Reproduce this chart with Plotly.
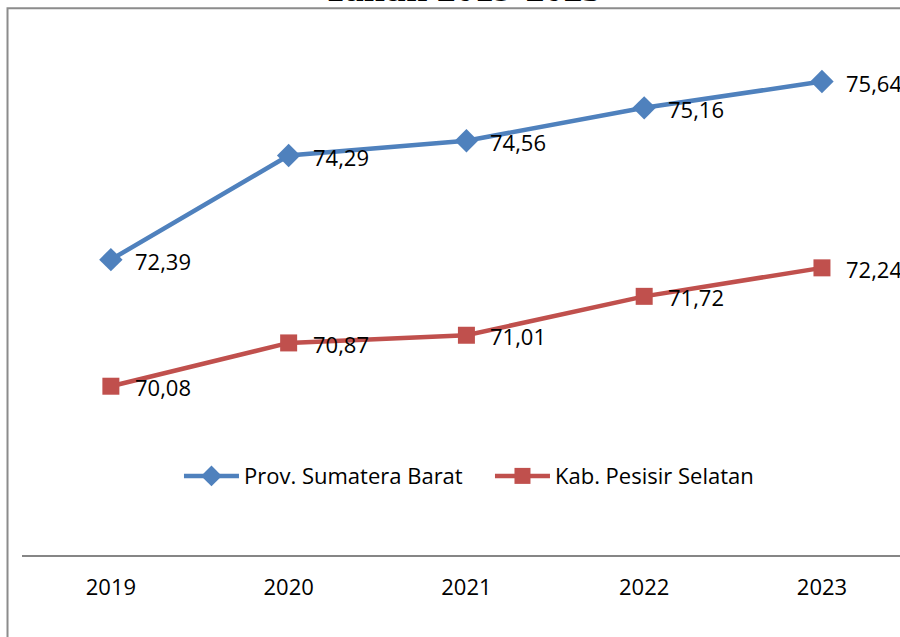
import plotly.graph_objects as go

years = ["2019", "2020", "2021", "2022", "2023"]
sumbar = [72.39, 74.29, 74.56, 75.16, 75.64]
pessel = [70.08, 70.87, 71.01, 71.72, 72.24]
name_sumbar = "Prov. Sumatera Barat"
name_pessel = "Kab. Pesisir Selatan"
title_text = "Tahun 2019-2023"

blue = "#4F81BD"
red = "#C0504D"
FONT = "Open Sans"
FS = 22

xs = list(range(len(years)))

fig = go.Figure()
fig.add_trace(go.Scatter(
    x=xs, y=sumbar, name=name_sumbar, mode="lines+markers",
    line=dict(color=blue, width=4.5),
    marker=dict(symbol="diamond", size=18, color=blue),
))
fig.add_trace(go.Scatter(
    x=xs, y=pessel, name=name_pessel, mode="lines+markers",
    line=dict(color=red, width=4.5),
    marker=dict(symbol="square", size=17, color=red),
))

annotations = []
for series in (sumbar, pessel):
    for xi, v in zip(xs, series):
        annotations.append(dict(
            x=xi, y=v, xref="x", yref="y",
            text=f"{v:.2f}".replace(".", ","),
            showarrow=False, xanchor="left", yanchor="middle",
            xshift=22, yshift=-1,
            font=dict(family=FONT, size=FS, color="#000000"),
        ))

annotations.append(dict(
    x=0.5, y=1.0, xref="paper", yref="paper",
    text="<b>" + title_text + "</b>", showarrow=False,
    xanchor="center", yanchor="bottom", yshift=-4, xshift=1,
    font=dict(family="Liberation Serif", size=38, color="#000000"),
))

fig.update_layout(
    width=900, height=637,
    margin=dict(l=22, r=0, t=7, b=82, pad=0),
    paper_bgcolor="white", plot_bgcolor="white",
    showlegend=True,
    legend=dict(
        orientation="h", x=0.533, xanchor="center", y=0.144, yanchor="middle",
        font=dict(family=FONT, size=FS, color="#000000"),
        itemwidth=55, bgcolor="rgba(0,0,0,0)",
        tracegroupgap=0, entrywidth=241, entrywidthmode="pixels",
    ),
    annotations=annotations,
    shapes=[dict(
        type="rect", xref="paper", yref="paper",
        x0=-0.0165, x1=1.02, y0=-0.2, y1=0.9976,
        line=dict(color="#8C8C8C", width=2), layer="below",
    )],
    xaxis=dict(
        range=[-0.5, 4.439], tickmode="array", tickvals=xs, ticktext=years,
        showgrid=False, zeroline=False, showline=True,
        linecolor="#868686", linewidth=2, ticks="",
        tickfont=dict(family=FONT, size=FS, color="#000000"),
        ticklabelstandoff=12,
    ),
    yaxis=dict(
        range=[67, 77], showgrid=False, zeroline=False, showline=False,
        showticklabels=False, ticks="",
    ),
)

fig.write_html(
    "out.html",
    config={"displayModeBar": False},
    post_script="document.body.style.margin='0';document.body.style.overflow='hidden';",
)
